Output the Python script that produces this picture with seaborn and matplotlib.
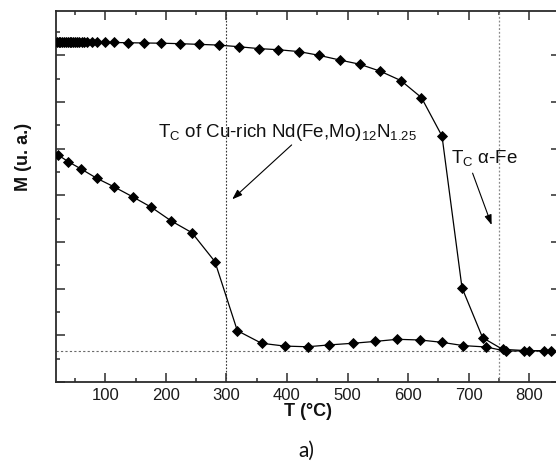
import numpy as np
import pandas as pd
import matplotlib
matplotlib.use("Agg")
import matplotlib.pyplot as plt
from matplotlib.ticker import MultipleLocator, NullFormatter
import seaborn as sns

# Magnetization vs temperature, upper (heating) branch
upper_T = [20, 23, 26, 29, 32, 35, 38, 41, 44, 47, 50, 53, 57, 61, 65, 70,
           78, 87, 100, 115, 138, 164, 192, 223, 255, 287, 320, 353, 386,
           420, 453, 487, 520, 554, 588, 622, 656, 689, 723, 756, 799, 836]
upper_M = [14.56, 14.56, 14.56, 14.56, 14.56, 14.56, 14.56, 14.56, 14.56,
           14.56, 14.56, 14.56, 14.56, 14.56, 14.56, 14.56,
           14.56, 14.56, 14.55, 14.55, 14.54, 14.53, 14.52, 14.50, 14.47,
           14.44, 14.37, 14.29, 14.24,
           14.16, 14.00, 13.80, 13.62, 13.32, 12.92, 12.19, 10.54, 4.04,
           1.90, 1.40, 1.34, 1.34]

# Lower branch
lower_T = [22, 39, 60, 86, 114, 145, 176, 209, 243, 281, 318, 358, 396,
           434, 470, 509, 546, 582, 620, 656, 691, 729, 762, 792, 825]
lower_M = [9.73, 9.44, 9.13, 8.73, 8.37, 7.94, 7.49, 6.90, 6.40, 5.16, 2.20,
           1.66, 1.54, 1.51, 1.59, 1.66, 1.74, 1.83, 1.80, 1.70, 1.56, 1.50,
           1.32, 1.34, 1.34]

# Reference lines
tc_lines = [300, 750]
baseline_M = 1.34

x_ticks = [100, 200, 300, 400, 500, 600, 700, 800]

sns.set_theme(style="ticks")
plt.rcParams["font.family"] = ["Liberation Sans", "DejaVu Sans"]
plt.rcParams["mathtext.fontset"] = "custom"
plt.rcParams["mathtext.rm"] = "Liberation Sans"
plt.rcParams["mathtext.it"] = "Liberation Sans:italic"

axis_col = "#2b2b2b"

fig = plt.figure(figsize=(5.56, 4.61), dpi=100)
ax = fig.add_axes([56 / 556, 79 / 461, 503.5 / 556, 371 / 461])

df_up = pd.DataFrame({"T": upper_T, "M": upper_M})
df_lo = pd.DataFrame({"T": lower_T, "M": lower_M})

line_kw = dict(color="black", linewidth=0.9, marker="D", markersize=5.6,
               markeredgecolor="black", markerfacecolor="black",
               markeredgewidth=0.6, estimator=None, ax=ax, zorder=3)
sns.lineplot(data=df_up, x="T", y="M", **line_kw)
sns.lineplot(data=df_lo, x="T", y="M", **line_kw)

ax.axvline(tc_lines[0], color="#333333", linewidth=0.8, linestyle=(0, (1.5, 1.5)), zorder=1)
ax.axvline(tc_lines[1], color="#8a8a8a", linewidth=0.9, linestyle=(0, (1.5, 1.5)), zorder=1)
ax.axhline(baseline_M, color="#6a6a6a", linewidth=0.8, linestyle=(0, (2, 2)), zorder=1)

ax.set_xlim(18.6, 850)
ax.set_ylim(0, 15.9)

ax.set_xticks(x_ticks)
ax.xaxis.set_minor_locator(MultipleLocator(50))
ax.yaxis.set_major_locator(MultipleLocator(2))
ax.yaxis.set_minor_locator(MultipleLocator(1))
ax.yaxis.set_major_formatter(NullFormatter())

ax.tick_params(which="both", direction="in", top=True, right=True,
               color=axis_col, width=1.1)
ax.tick_params(which="major", length=6.5)
ax.tick_params(which="minor", length=3.2)
ax.tick_params(axis="x", which="major", labelsize=12, pad=4, labelcolor="#1a1a1a")
ax.tick_params(axis="y", labelleft=False)

for sp in ax.spines.values():
    sp.set_color(axis_col)
    sp.set_linewidth(1.3)

ax.set_xlabel("T (°C)", fontsize=13, fontweight="bold", color="#111111")
ax.set_ylabel("M (u. a.)", fontsize=13, fontweight="bold", color="#111111")
ax.xaxis.set_label_coords(0.5, -0.056)
ax.yaxis.set_label_coords(-0.047, 0.607)

# Curie temperature annotations
arrow_style = dict(arrowstyle="-|>,head_length=0.5,head_width=0.18",
                   color="black", lw=0.8, shrinkA=0, shrinkB=0)

ax.text(187, 10.51,
        r"T$_\mathregular{C}$ of Cu-rich Nd(Fe,Mo)$_\mathregular{12}$N$_\mathregular{1.25}$",
        fontsize=13.5, ha="left", va="baseline", color="#111111")
ax.annotate("", xy=(309.6, 7.83), xytext=(407.7, 10.16), arrowprops=arrow_style)

ax.text(670.2, 9.37, r"T$_\mathregular{C}$ α-Fe", fontsize=13.5,
        ha="left", va="baseline", color="#111111")
ax.annotate("", xy=(737.9, 6.73), xytext=(706.5, 8.95), arrowprops=arrow_style)

fig.text(0.551, 0.0217, "a)", fontsize=15, family=["Lato", "DejaVu Sans"],
         ha="center", va="center", color="#111111")

fig.savefig("out.png", dpi=100)
